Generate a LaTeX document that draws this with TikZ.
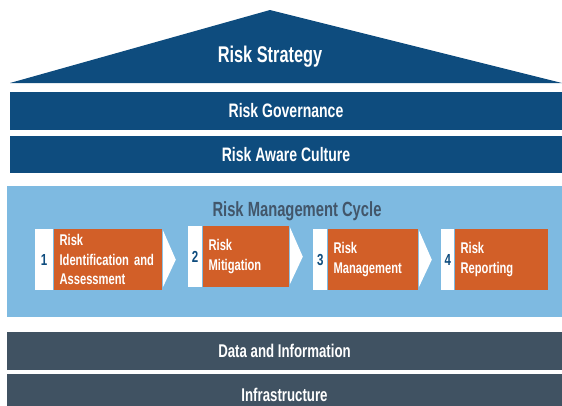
\documentclass[tikz,border=0pt]{standalone}
\usepackage{fontspec}
\setmainfont{Liberation Sans}[FakeStretch=0.72]
\usetikzlibrary{positioning}
\usepackage{xcolor}

\definecolor{riskblue}{RGB}{14,76,126}
\definecolor{cyclebg}{RGB}{126,186,225}
\definecolor{slate}{RGB}{64,82,98}
\definecolor{cycletext}{RGB}{66,86,106}
\definecolor{steporange}{RGB}{210,95,40}

\tikzset{
  bar/.style={fill=riskblue, text=white, inner sep=0pt,
    font=\bfseries\fontsize{19.5}{21}\selectfont},
  basebar/.style={bar, fill=slate, font=\bfseries\fontsize{18.4}{20}\selectfont},
  numbox/.style={fill=white, text=riskblue, inner sep=0pt, minimum height=61pt,
    font=\bfseries\fontsize{16}{18}\selectfont},
  stepbox/.style={fill=steporange, text=white, align=left, minimum height=61pt,
    inner xsep=6pt, inner ysep=0pt, font=\bfseries\fontsize{15.5}{19.5}\selectfont},
  chevron/.style={fill=white}
}

\begin{document}
\begin{tikzpicture}[x=1pt,y=-1pt]
\useasboundingbox (0,0) rectangle (562,405);

% Roof: the strategy on top
\fill[riskblue] (10,83) -- (270,10) -- (562,83) -- cycle;
\node[bar, fill=none] (strategy) at (270,57) {\fontsize{22.7}{24}\selectfont Risk Strategy};

% Two blue bars under the roof
\node[bar, minimum width=552pt, minimum height=38pt] (governance) at (286,111) {Risk Governance};
\node[bar, minimum width=552pt, minimum height=37pt] (culture) at (286,154.5) {Risk Aware Culture};

% Light blue band with the cycle
\fill[cyclebg] (7,186) rectangle (562,317);
\node[text=cycletext, font=\bfseries\fontsize{20.5}{22}\selectfont] (cycle) at (297,211) {Risk Management Cycle};

% Step 1
\node[numbox, minimum width=18pt, anchor=north west] (num1) at (35,229) {1};
\node[stepbox, text width=96pt, right=0pt of num1] (step1) {Risk\\Identification and\\Assessment};
% Step 2, a little higher
\node[numbox, minimum width=14pt, anchor=north west] (num2) at (188,226) {2};
\node[stepbox, text width=74pt, right=0pt of num2] (step2) {Risk\\Mitigation};
% Step 3
\node[numbox, minimum width=14pt, anchor=north west] (num3) at (313,229) {3};
\node[stepbox, text width=78pt, right=0pt of num3] (step3) {Risk\\Management};
% Step 4
\node[numbox, minimum width=13pt, anchor=north west] (num4) at (441,229) {4};
\node[stepbox, text width=81pt, right=0pt of num4] (step4) {Risk\\Reporting};

% White chevrons between the steps
\foreach \s in {1,2,3} {
  \fill[chevron] ([xshift=1pt,yshift=-1pt]step\s.north east) -- ([xshift=14pt]step\s.east)
    -- ([xshift=1pt,yshift=3pt]step\s.south east) -- cycle;
}

% Foundation bars
\node[basebar, minimum width=555pt, minimum height=38pt] (data) at (284.5,351) {Data and Information};
\node[basebar, minimum width=555pt, minimum height=42pt] (infra) at (284.5,395) {};
\node[text=white, font=\bfseries\fontsize{18.4}{20}\selectfont] (infratext) at (284.5,395) {Infrastructure};
\end{tikzpicture}
\end{document}
